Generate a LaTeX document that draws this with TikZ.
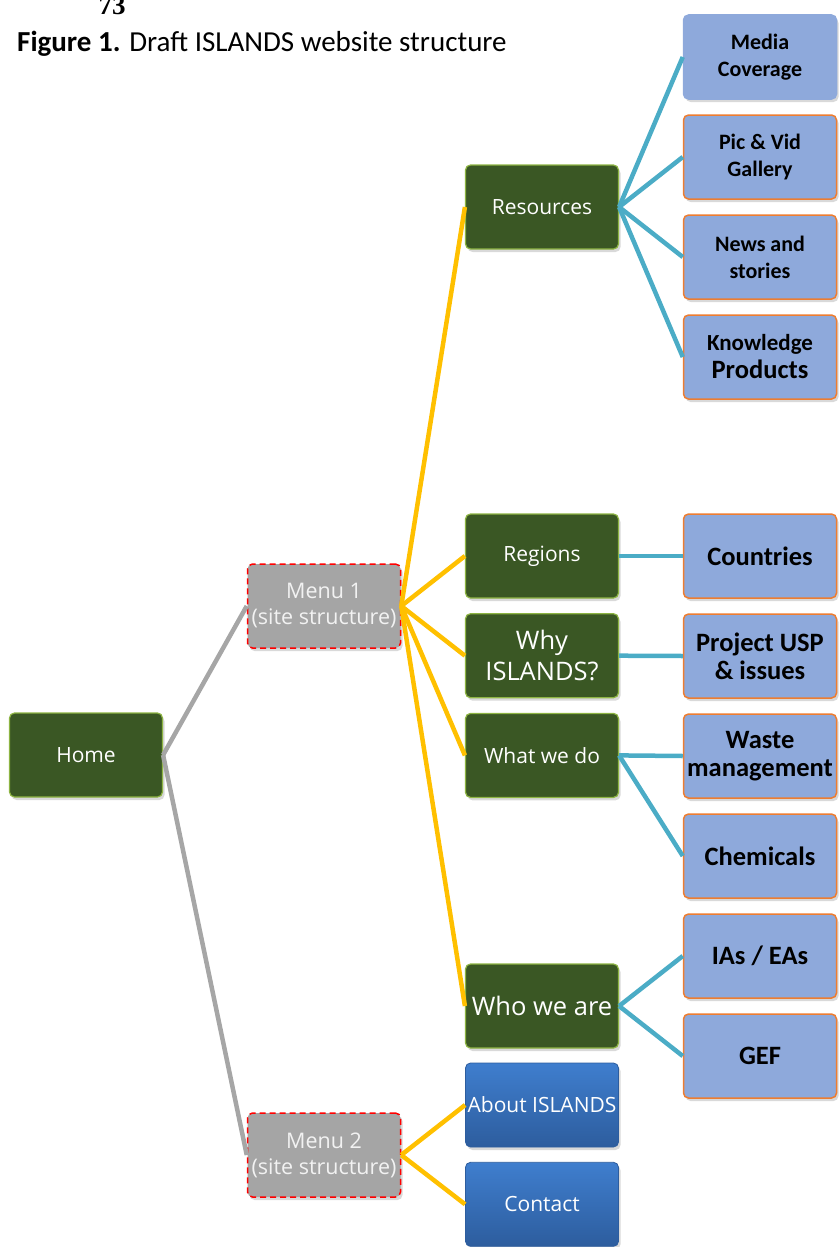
\documentclass[tikz,border=0pt]{standalone}
\usepackage{xcolor}
\usepackage{fontspec}
\setmainfont{Carlito}
\newfontfamily\boxfont{Open Sans}
\newfontfamily\pagefont{Liberation Serif}
\usepackage{tikz}
\usetikzlibrary{positioning}
\usetikzlibrary{shadows}

\definecolor{boxgreen}{HTML}{3A5724}
\definecolor{rimgreen}{HTML}{8DB443}
\definecolor{menugray}{HTML}{A5A5A5}
\definecolor{menutext}{HTML}{F2F2F2}
\definecolor{bluetop}{HTML}{3F7ECE}
\definecolor{bluebottom}{HTML}{2D5D9E}
\definecolor{leafblue}{HTML}{8EA9DB}
\definecolor{leaforange}{HTML}{ED7D31}
\definecolor{linegray}{HTML}{A6A6A6}
\definecolor{lineyellow}{HTML}{FFC000}
\definecolor{lineteal}{HTML}{4BACC6}

\tikzset{
  box/.style = {rounded corners=5pt, minimum width=153pt, minimum height=84pt, inner sep=1pt, align=center,
                drop shadow={opacity=.3, shadow xshift=2pt, shadow yshift=-3pt}},
  green box/.style = {box, fill=boxgreen, draw=rimgreen, line width=1.2pt, text=white, font=\boxfont\fontsize{21}{26}\selectfont},
  menu box/.style = {box, fill=menugray, draw=red, line width=1.5pt, dash pattern=on 6pt off 4pt, text=menutext, font=\boxfont\fontsize{21.5}{26}\selectfont},
  blue box/.style = {box, top color=bluetop, bottom color=bluebottom, draw=bluebottom, line width=.8pt, text=white, font=\boxfont\fontsize{21}{25}\selectfont},
  leaf box/.style = {box, fill=leafblue, draw=leaforange, line width=1.5pt, font=\bfseries\fontsize{26.5}{28}\selectfont},
  leaf small/.style = {font=\bfseries\fontsize{22}{27}\selectfont},
  big text/.style = {font=\boxfont\fontsize{25.5}{31}\selectfont},
  gray line/.style = {draw=linegray, line width=4.5pt},
  yellow line/.style = {draw=lineyellow, line width=4.5pt},
  teal line/.style = {draw=lineteal, line width=4.5pt}
}

\begin{document}
\begin{tikzpicture}[x=1pt,y=-1pt,node distance=14.5pt]
  \useasboundingbox (0,0) rectangle (838,1247);

  \node[anchor=base, font=\pagefont\bfseries\fontsize{27}{27}\selectfont] (pageno) at (112,15) {73};
  \node[anchor=base west, inner sep=0pt, font=\fontsize{29}{32}\selectfont] (caption) at (17,52) {\textbf{Figure 1.} Draft ISLANDS website structure};

  % first two levels
  \node[green box] (home) at (86,755) {Home};
  \node[menu box] (menu1) at (324,606) {Menu 1\\(site structure)};
  \node[menu box] (menu2) at (324,1155) {Menu 2\\(site structure)};

  % sections
  \node[green box] (resources) at (542,207) {Resources};
  \node[green box] (regions) at (542,556) {Regions};
  \node[green box, big text] (why) [below=of regions] {Why\\ISLANDS?};
  \node[green box] (what) [below=of why] {What we do};
  \node[green box, big text] (who) at (542,1006) {Who we are};
  \node[blue box] (about) at (542,1105) {About ISLANDS};
  \node[blue box] (contact) [below=of about] {Contact};

  % pages
  \node[leaf box, leaf small, draw=leafblue] (media) at (760,57) {Media\\Coverage};
  \node[leaf box, leaf small] (gallery) [below=of media] {Pic \& Vid\\Gallery};
  \node[leaf box, leaf small] (news) [below=of gallery] {News and\\stories};
  \node[leaf box] (knowledge) [below=of news] {{\fontsize{23}{28}\selectfont Knowledge}\\Products};
  \node[leaf box] (countries) at (760,556) {Countries};
  \node[leaf box] (usp) [below=of countries] {Project USP\\\& issues};
  \node[leaf box] (waste) [below=of usp] {Waste\\management};
  \node[leaf box] (chemicals) [below=of waste] {Chemicals};
  \node[leaf box] (ias) [below=of chemicals] {IAs / EAs};
  \node[leaf box] (gef) [below=of ias] {GEF};

  \path[gray line]
    (home.east) edge (menu1.west)
    (home.east) edge (menu2.west);
  \foreach \sub in {resources,regions,why,what,who}
    \draw[yellow line] (menu1.east) -- (\sub.west);
  \foreach \sub in {about,contact}
    \draw[yellow line] (menu2.east) -- (\sub.west);
  \foreach \page in {media,gallery,news,knowledge}
    \draw[teal line] (resources.east) -- (\page.west);
  \path[teal line]
    (regions.east) edge (countries.west)
    (why.east) edge (usp.west)
    (what.east) edge (waste.west)
    (what.east) edge (chemicals.west)
    (who.east) edge (ias.west)
    (who.east) edge (gef.west);
\end{tikzpicture}
\end{document}
